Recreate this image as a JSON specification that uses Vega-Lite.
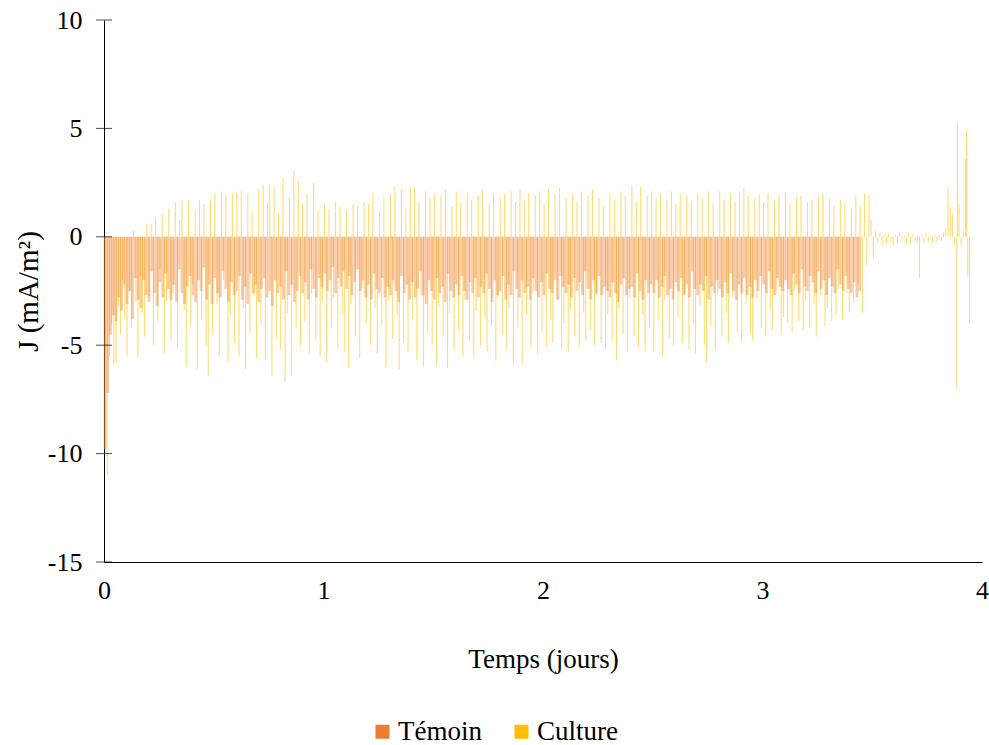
{
"$schema":"https://vega.github.io/schema/vega-lite/v6.json",
"width":878,"height":542,
"autosize":{"type":"none"},
"padding":{"left":104,"top":20,"right":7,"bottom":183},
"background":"white",
"config":{"view":{"stroke":null},"font":"Liberation Serif"},
"datasets":{
"yt":[{"x":0,"j":-15},{"x":0,"j":-10},{"x":0,"j":-5},{"x":0,"j":0},{"x":0,"j":5},{"x":0,"j":10}],
"tem":[
{"x":0.005,"j":-9.8},{"x":0.0175,"j":-7.2},{"x":0.03,"j":-4.5},{"x":0.0425,"j":-3.6},{"x":0.055,"j":-3.9},{"x":0.0675,"j":-2.8},{"x":0.08,"j":-3.4},{"x":0.0925,"j":-2.2},
{"x":0.105,"j":-3.1},{"x":0.1175,"j":-2.5},{"x":0.13,"j":-3.8},{"x":0.1425,"j":-1.9},{"x":0.155,"j":-2.9},{"x":0.1675,"j":-3.3},{"x":0.18,"j":-2},{"x":0.1925,"j":-2.7},
{"x":0.205,"j":-3},{"x":0.2175,"j":-1.6},{"x":0.23,"j":-2.6},{"x":0.2425,"j":-3.2},{"x":0.255,"j":-2.1},{"x":0.2675,"j":-2.8},{"x":0.28,"j":-1.7},{"x":0.2925,"j":-2.4},
{"x":0.305,"j":-2.9},{"x":0.3175,"j":-2.2},{"x":0.33,"j":-3},{"x":0.3425,"j":-1.5},{"x":0.355,"j":-2.6},{"x":0.3675,"j":-3.1},{"x":0.38,"j":-2.3},{"x":0.3925,"j":-1.8},
{"x":0.405,"j":-2.7},{"x":0.4175,"j":-3},{"x":0.43,"j":-2},{"x":0.4425,"j":-2.5},{"x":0.455,"j":-1.4},{"x":0.4675,"j":-2.9},{"x":0.48,"j":-2.2},{"x":0.4925,"j":-3.1},
{"x":0.505,"j":-1.9},{"x":0.5175,"j":-2.6},{"x":0.53,"j":-2.8},{"x":0.5425,"j":-1.6},{"x":0.555,"j":-2.4},{"x":0.5675,"j":-3},{"x":0.58,"j":-2.1},{"x":0.5925,"j":-2.7},
{"x":0.605,"j":-2.5},{"x":0.6175,"j":-1.8},{"x":0.63,"j":-2.9},{"x":0.6425,"j":-2.3},{"x":0.655,"j":-3.1},{"x":0.6675,"j":-1.7},{"x":0.68,"j":-2.6},{"x":0.6925,"j":-2.2},
{"x":0.705,"j":-3},{"x":0.7175,"j":-2.4},{"x":0.73,"j":-1.9},{"x":0.7425,"j":-2.8},{"x":0.755,"j":-2.5},{"x":0.7675,"j":-3.2},{"x":0.78,"j":-2},{"x":0.7925,"j":-2.6},
{"x":0.805,"j":-2.3},{"x":0.8175,"j":-2.9},{"x":0.83,"j":-1.6},{"x":0.8425,"j":-2.7},{"x":0.855,"j":-2.2},{"x":0.8675,"j":-3},{"x":0.88,"j":-2.5},{"x":0.8925,"j":-1.8},
{"x":0.905,"j":-2.6},{"x":0.9175,"j":-2.1},{"x":0.93,"j":-2.9},{"x":0.9425,"j":-1.5},{"x":0.955,"j":-2.4},{"x":0.9675,"j":-2.8},{"x":0.98,"j":-1.9},{"x":0.9925,"j":-2.3},
{"x":1.005,"j":-1.7},{"x":1.0175,"j":-2.5},{"x":1.03,"j":-2},{"x":1.0425,"j":-1.4},{"x":1.055,"j":-2.6},{"x":1.0675,"j":-1.9},{"x":1.08,"j":-2.3},{"x":1.0925,"j":-1.6},
{"x":1.105,"j":-2.4},{"x":1.1175,"j":-1.8},{"x":1.13,"j":-2.7},{"x":1.1425,"j":-2.1},{"x":1.155,"j":-1.5},{"x":1.1675,"j":-2.5},{"x":1.18,"j":-2},{"x":1.1925,"j":-2.8},
{"x":1.205,"j":-2.2},{"x":1.2175,"j":-2.9},{"x":1.23,"j":-1.7},{"x":1.2425,"j":-2.4},{"x":1.255,"j":-2.6},{"x":1.2675,"j":-1.9},{"x":1.28,"j":-2.8},{"x":1.2925,"j":-2.3},
{"x":1.305,"j":-2.7},{"x":1.3175,"j":-2},{"x":1.33,"j":-2.5},{"x":1.3425,"j":-3},{"x":1.355,"j":-1.8},{"x":1.3675,"j":-2.6},{"x":1.38,"j":-2.2},{"x":1.3925,"j":-2.9},
{"x":1.405,"j":-2.1},{"x":1.4175,"j":-2.8},{"x":1.43,"j":-2.4},{"x":1.4425,"j":-1.6},{"x":1.455,"j":-2.7},{"x":1.4675,"j":-3.1},{"x":1.48,"j":-2},{"x":1.4925,"j":-2.5},
{"x":1.505,"j":-2.9},{"x":1.5175,"j":-1.9},{"x":1.53,"j":-2.6},{"x":1.5425,"j":-2.3},{"x":1.555,"j":-3},{"x":1.5675,"j":-1.7},{"x":1.58,"j":-2.5},{"x":1.5925,"j":-2.8},
{"x":1.605,"j":-2.2},{"x":1.6175,"j":-2.7},{"x":1.63,"j":-1.8},{"x":1.6425,"j":-2.5},{"x":1.655,"j":-2.9},{"x":1.6675,"j":-2.1},{"x":1.68,"j":-2.6},{"x":1.6925,"j":-1.9},
{"x":1.705,"j":-2.8},{"x":1.7175,"j":-2.3},{"x":1.73,"j":-2.6},{"x":1.7425,"j":-1.7},{"x":1.755,"j":-2.4},{"x":1.7675,"j":-3},{"x":1.78,"j":-2},{"x":1.7925,"j":-2.7},
{"x":1.805,"j":-2.5},{"x":1.8175,"j":-1.8},{"x":1.83,"j":-2.9},{"x":1.8425,"j":-2.2},{"x":1.855,"j":-2.7},{"x":1.8675,"j":-1.6},{"x":1.88,"j":-2.4},{"x":1.8925,"j":-2.8},
{"x":1.905,"j":-2},{"x":1.9175,"j":-2.6},{"x":1.93,"j":-2.3},{"x":1.9425,"j":-2.9},{"x":1.955,"j":-1.9},{"x":1.9675,"j":-2.5},{"x":1.98,"j":-2.8},{"x":1.9925,"j":-2.1},
{"x":2.005,"j":-2.7},{"x":2.0175,"j":-1.7},{"x":2.03,"j":-2.4},{"x":2.0425,"j":-2.6},{"x":2.055,"j":-2},{"x":2.0675,"j":-2.9},{"x":2.08,"j":-1.8},{"x":2.0925,"j":-2.3},
{"x":2.105,"j":-2.6},{"x":2.1175,"j":-2.2},{"x":2.13,"j":-2.8},{"x":2.1425,"j":-1.9},{"x":2.155,"j":-2.5},{"x":2.1675,"j":-2.1},{"x":2.18,"j":-2.7},{"x":2.1925,"j":-1.6},
{"x":2.205,"j":-2.4},{"x":2.2175,"j":-2.9},{"x":2.23,"j":-2},{"x":2.2425,"j":-2.6},{"x":2.255,"j":-1.8},{"x":2.2675,"j":-2.7},{"x":2.28,"j":-2.3},{"x":2.2925,"j":-2.5},
{"x":2.305,"j":-2.8},{"x":2.3175,"j":-2.1},{"x":2.33,"j":-2.6},{"x":2.3425,"j":-3},{"x":2.355,"j":-2.2},{"x":2.3675,"j":-1.9},{"x":2.38,"j":-2.7},{"x":2.3925,"j":-2.4},
{"x":2.405,"j":-2.3},{"x":2.4175,"j":-2.8},{"x":2.43,"j":-1.7},{"x":2.4425,"j":-2.5},{"x":2.455,"j":-2.9},{"x":2.4675,"j":-2},{"x":2.48,"j":-2.6},{"x":2.4925,"j":-2.2},
{"x":2.505,"j":-2.6},{"x":2.5175,"j":-2},{"x":2.53,"j":-2.8},{"x":2.5425,"j":-2.3},{"x":2.555,"j":-1.8},{"x":2.5675,"j":-2.7},{"x":2.58,"j":-2.4},{"x":2.5925,"j":-2.9},
{"x":2.605,"j":-2.1},{"x":2.6175,"j":-2.5},{"x":2.63,"j":-1.9},{"x":2.6425,"j":-2.7},{"x":2.655,"j":-2.2},{"x":2.6675,"j":-2.8},{"x":2.68,"j":-1.6},{"x":2.6925,"j":-2.4},
{"x":2.705,"j":-2.7},{"x":2.7175,"j":-2.2},{"x":2.73,"j":-2.5},{"x":2.7425,"j":-1.8},{"x":2.755,"j":-2.9},{"x":2.7675,"j":-2.3},{"x":2.78,"j":-2.6},{"x":2.7925,"j":-2},
{"x":2.805,"j":-2.4},{"x":2.8175,"j":-2.8},{"x":2.83,"j":-2.1},{"x":2.8425,"j":-2.6},{"x":2.855,"j":-1.7},{"x":2.8675,"j":-2.5},{"x":2.88,"j":-2.9},{"x":2.8925,"j":-2.2},
{"x":2.905,"j":-2.6},{"x":2.9175,"j":-1.9},{"x":2.93,"j":-2.7},{"x":2.9425,"j":-2.3},{"x":2.955,"j":-2.8},{"x":2.9675,"j":-2},{"x":2.98,"j":-2.5},{"x":2.9925,"j":-1.8},
{"x":3.005,"j":-2.2},{"x":3.0175,"j":-2.6},{"x":3.03,"j":-1.6},{"x":3.0425,"j":-2.4},{"x":3.055,"j":-2.7},{"x":3.0675,"j":-1.9},{"x":3.08,"j":-2.3},{"x":3.0925,"j":-2.5},
{"x":3.105,"j":-2},{"x":3.1175,"j":-2.4},{"x":3.13,"j":-2.7},{"x":3.1425,"j":-1.7},{"x":3.155,"j":-2.2},{"x":3.1675,"j":-2.6},{"x":3.18,"j":-1.5},{"x":3.1925,"j":-2.3},
{"x":3.205,"j":-2.5},{"x":3.2175,"j":-1.8},{"x":3.23,"j":-2.1},{"x":3.2425,"j":-2.6},{"x":3.255,"j":-1.6},{"x":3.2675,"j":-2.4},{"x":3.28,"j":-2},{"x":3.2925,"j":-2.7},
{"x":3.305,"j":-1.9},{"x":3.3175,"j":-2.3},{"x":3.33,"j":-2.6},{"x":3.3425,"j":-1.5},{"x":3.355,"j":-2.2},{"x":3.3675,"j":-2.5},{"x":3.38,"j":-1.8},{"x":3.3925,"j":-2.4},
{"x":3.405,"j":-2.6},{"x":3.4175,"j":-2.1},{"x":3.43,"j":-2.8},{"x":3.4425,"j":-2.5}
],
"cul":[
{"x":0.005,"j":-9.8},{"x":0.015,"j":-11},{"x":0.025,"j":-5.5},{"x":0.035,"j":-4},{"x":0.045,"j":-5.9},{"x":0.055,"j":-5.8},{"x":0.065,"j":-3.2},{"x":0.075,"j":-4.5},{"x":0.085,"j":-2},{"x":0.095,"j":-3.8},
{"x":0.105,"j":-5.5},{"x":0.115,"j":-2.5},{"x":0.125,"j":-4.2},{"x":0.135,"j":0.3},{"x":0.145,"j":-3},{"x":0.155,"j":-5.6},{"x":0.165,"j":-1.8},{"x":0.175,"j":-3.5},{"x":0.185,"j":-4.6},{"x":0.195,"j":0.6},
{"x":0.205,"j":-2.8},{"x":0.215,"j":0.6},{"x":0.225,"j":-5},{"x":0.235,"j":0.9},{"x":0.245,"j":-3.9},{"x":0.255,"j":-1.5},{"x":0.265,"j":1},{"x":0.275,"j":-5.4},{"x":0.285,"j":-3},{"x":0.295,"j":1.3},
{"x":0.305,"j":-4.8},{"x":0.315,"j":-2.6},{"x":0.325,"j":1.6},{"x":0.335,"j":-5.2},{"x":0.345,"j":0.8},{"x":0.355,"j":1.7},{"x":0.365,"j":-3.4},{"x":0.375,"j":-6},{"x":0.385,"j":1.7},{"x":0.395,"j":-4.1},
{"x":0.405,"j":-2.2},{"x":0.415,"j":1.2},{"x":0.425,"j":-6.1},{"x":0.435,"j":1.7},{"x":0.445,"j":-3.8},{"x":0.455,"j":1.5},{"x":0.465,"j":-5},{"x":0.475,"j":-6.4},{"x":0.485,"j":1.7},{"x":0.495,"j":-4.5},
{"x":0.505,"j":2},{"x":0.515,"j":-3.1},{"x":0.525,"j":-5.5},{"x":0.535,"j":2.1},{"x":0.545,"j":-2},{"x":0.555,"j":1.9},{"x":0.565,"j":-5.8},{"x":0.575,"j":-3.6},{"x":0.585,"j":2},{"x":0.595,"j":-4.9},
{"x":0.605,"j":2.1},{"x":0.615,"j":-5.5},{"x":0.625,"j":2.1},{"x":0.635,"j":-3.3},{"x":0.645,"j":-6.1},{"x":0.655,"j":2},{"x":0.665,"j":-4.4},{"x":0.675,"j":1.2},{"x":0.685,"j":-2.7},{"x":0.695,"j":-5.6},
{"x":0.705,"j":2.2},{"x":0.715,"j":-4},{"x":0.725,"j":2.4},{"x":0.735,"j":-5.6},{"x":0.745,"j":1.6},{"x":0.755,"j":2.4},{"x":0.765,"j":-6.4},{"x":0.775,"j":2.3},{"x":0.785,"j":-4.7},{"x":0.795,"j":1.1},
{"x":0.805,"j":-5.2},{"x":0.815,"j":2.65},{"x":0.825,"j":-6.7},{"x":0.835,"j":-3.5},{"x":0.845,"j":1.8},{"x":0.855,"j":-6.4},{"x":0.865,"j":3.05},{"x":0.875,"j":-4.2},{"x":0.885,"j":2.6},{"x":0.895,"j":-5},
{"x":0.905,"j":1.5},{"x":0.915,"j":-3.9},{"x":0.925,"j":2},{"x":0.935,"j":-5.4},{"x":0.945,"j":-2.6},{"x":0.955,"j":2.5},{"x":0.965,"j":-4.8},{"x":0.975,"j":1.2},{"x":0.985,"j":-5.5},{"x":0.995,"j":-3},
{"x":1.005,"j":1.5},{"x":1.015,"j":-5.8},{"x":1.025,"j":1.3},{"x":1.035,"j":-4.2},{"x":1.045,"j":-2.8},{"x":1.055,"j":1.6},{"x":1.065,"j":-5.1},{"x":1.075,"j":1.4},{"x":1.085,"j":-3.6},{"x":1.095,"j":-5.3},
{"x":1.105,"j":1.2},{"x":1.115,"j":-6},{"x":1.125,"j":-3.1},{"x":1.135,"j":1.5},{"x":1.145,"j":-4.6},{"x":1.155,"j":1.4},{"x":1.165,"j":-5.6},{"x":1.175,"j":-2.4},{"x":1.185,"j":1.6},{"x":1.195,"j":-4},
{"x":1.205,"j":1.5},{"x":1.215,"j":-5},{"x":1.225,"j":2},{"x":1.235,"j":-3.3},{"x":1.245,"j":-5.4},{"x":1.255,"j":1.2},{"x":1.265,"j":-4.1},{"x":1.275,"j":1.8},{"x":1.285,"j":-6},{"x":1.295,"j":-2.9},
{"x":1.305,"j":1.9},{"x":1.315,"j":-4.7},{"x":1.325,"j":2.3},{"x":1.335,"j":-3.6},{"x":1.345,"j":-6.1},{"x":1.355,"j":2.2},{"x":1.365,"j":-4.9},{"x":1.375,"j":1.3},{"x":1.385,"j":-5.3},{"x":1.395,"j":2.3},
{"x":1.405,"j":-3.8},{"x":1.415,"j":2.3},{"x":1.425,"j":-5.7},{"x":1.435,"j":1.6},{"x":1.445,"j":-2.7},{"x":1.455,"j":-6},{"x":1.465,"j":2.1},{"x":1.475,"j":-4.4},{"x":1.485,"j":1.8},{"x":1.495,"j":-5},
{"x":1.505,"j":2},{"x":1.515,"j":-5.9},{"x":1.525,"j":-3.2},{"x":1.535,"j":1.9},{"x":1.545,"j":-4.6},{"x":1.555,"j":2.2},{"x":1.565,"j":-6.05},{"x":1.575,"j":-3.5},{"x":1.585,"j":1.4},{"x":1.595,"j":-5.2},
{"x":1.605,"j":2.1},{"x":1.615,"j":-4.3},{"x":1.625,"j":1.6},{"x":1.635,"j":-5.5},{"x":1.645,"j":-2.9},{"x":1.655,"j":2},{"x":1.665,"j":-4.8},{"x":1.675,"j":1.7},{"x":1.685,"j":-5.6},{"x":1.695,"j":-3.4},
{"x":1.705,"j":1.9},{"x":1.715,"j":-5},{"x":1.725,"j":2.2},{"x":1.735,"j":-3.7},{"x":1.745,"j":-5.3},{"x":1.755,"j":1.5},{"x":1.765,"j":-4.1},{"x":1.775,"j":2},{"x":1.785,"j":-5.7},{"x":1.795,"j":-2.8},
{"x":1.805,"j":1.8},{"x":1.815,"j":-4.5},{"x":1.825,"j":2},{"x":1.835,"j":-5.2},{"x":1.845,"j":-3.3},{"x":1.855,"j":2.1},{"x":1.865,"j":-5.9},{"x":1.875,"j":1.6},{"x":1.885,"j":-4.2},{"x":1.895,"j":2.2},
{"x":1.905,"j":-5.9},{"x":1.915,"j":1.7},{"x":1.925,"j":-3.6},{"x":1.935,"j":2},{"x":1.945,"j":-5},{"x":1.955,"j":-2.6},{"x":1.965,"j":1.9},{"x":1.975,"j":-5.4},{"x":1.985,"j":2.1},{"x":1.995,"j":-4.4},
{"x":2.005,"j":1.5},{"x":2.015,"j":-5.1},{"x":2.025,"j":2.2},{"x":2.035,"j":-3.8},{"x":2.045,"j":-4.9},{"x":2.055,"j":2},{"x":2.065,"j":-2.9},{"x":2.075,"j":2.25},{"x":2.085,"j":-5.2},{"x":2.095,"j":-4},
{"x":2.105,"j":1.8},{"x":2.115,"j":-5.3},{"x":2.125,"j":-3.4},{"x":2.135,"j":2},{"x":2.145,"j":-4.6},{"x":2.155,"j":1.6},{"x":2.165,"j":-5.1},{"x":2.175,"j":2.1},{"x":2.185,"j":-3.5},{"x":2.195,"j":-4.8},
{"x":2.205,"j":1.9},{"x":2.215,"j":-4.3},{"x":2.225,"j":2.2},{"x":2.235,"j":-5},{"x":2.245,"j":-2.7},{"x":2.255,"j":1.8},{"x":2.265,"j":-4.9},{"x":2.275,"j":1.4},{"x":2.285,"j":-5.2},{"x":2.295,"j":-3.6},
{"x":2.305,"j":2},{"x":2.315,"j":-4.8},{"x":2.325,"j":1.7},{"x":2.335,"j":-5.7},{"x":2.345,"j":-3.3},{"x":2.355,"j":2.1},{"x":2.365,"j":-4.5},{"x":2.375,"j":1.9},{"x":2.385,"j":-5.3},{"x":2.395,"j":-2.8},
{"x":2.405,"j":2.35},{"x":2.415,"j":-4.6},{"x":2.425,"j":1.6},{"x":2.435,"j":-5.1},{"x":2.445,"j":2.3},{"x":2.455,"j":-3.6},{"x":2.465,"j":-5.3},{"x":2.475,"j":1.9},{"x":2.485,"j":-4.2},{"x":2.495,"j":2.1},
{"x":2.505,"j":-5.3},{"x":2.515,"j":1.8},{"x":2.525,"j":-3.9},{"x":2.535,"j":2},{"x":2.545,"j":-5.5},{"x":2.555,"j":-2.9},{"x":2.565,"j":1.7},{"x":2.575,"j":-4.7},{"x":2.585,"j":2.1},{"x":2.595,"j":-5},
{"x":2.605,"j":1.5},{"x":2.615,"j":-3.7},{"x":2.625,"j":2},{"x":2.635,"j":-4.9},{"x":2.645,"j":-2.6},{"x":2.655,"j":1.9},{"x":2.665,"j":-5.2},{"x":2.675,"j":1.6},{"x":2.685,"j":-4},{"x":2.695,"j":-5.4},
{"x":2.705,"j":2},{"x":2.715,"j":-3.2},{"x":2.725,"j":1.8},{"x":2.735,"j":-5},{"x":2.745,"j":-5.8},{"x":2.755,"j":2.1},{"x":2.765,"j":-4.1},{"x":2.775,"j":1.5},{"x":2.785,"j":-5.2},{"x":2.795,"j":-2.7},
{"x":2.805,"j":2.1},{"x":2.815,"j":-4.6},{"x":2.825,"j":1.7},{"x":2.835,"j":-3.5},{"x":2.845,"j":-4.9},{"x":2.855,"j":2},{"x":2.865,"j":-2.8},{"x":2.875,"j":1.6},{"x":2.885,"j":-4.4},{"x":2.895,"j":2.1},
{"x":2.905,"j":-4.8},{"x":2.915,"j":2.25},{"x":2.925,"j":-3.1},{"x":2.935,"j":1.9},{"x":2.945,"j":-4.5},{"x":2.955,"j":-4.8},{"x":2.965,"j":1.8},{"x":2.975,"j":-2.9},{"x":2.985,"j":2},{"x":2.995,"j":-4.2},
{"x":3.005,"j":1.6},{"x":3.015,"j":-4.6},{"x":3.025,"j":2},{"x":3.035,"j":-3.4},{"x":3.045,"j":-4.3},{"x":3.055,"j":1.7},{"x":3.065,"j":-2.6},{"x":3.075,"j":1.9},{"x":3.085,"j":-4.5},{"x":3.095,"j":-3.7},
{"x":3.105,"j":2},{"x":3.115,"j":-4},{"x":3.125,"j":1.5},{"x":3.135,"j":-4.4},{"x":3.145,"j":-2.5},{"x":3.155,"j":1.8},{"x":3.165,"j":-3.9},{"x":3.175,"j":1.9},{"x":3.185,"j":-4.3},{"x":3.195,"j":-2.9},
{"x":3.205,"j":1.6},{"x":3.215,"j":-4.2},{"x":3.225,"j":1.7},{"x":3.235,"j":-3.1},{"x":3.245,"j":-4.6},{"x":3.255,"j":1.85},{"x":3.265,"j":-2.7},{"x":3.275,"j":2},{"x":3.285,"j":-4.1},{"x":3.295,"j":-3.3},
{"x":3.305,"j":1.8},{"x":3.315,"j":-3.9},{"x":3.325,"j":1.4},{"x":3.335,"j":-3.6},{"x":3.345,"j":-2.4},{"x":3.355,"j":1.7},{"x":3.365,"j":-3.8},{"x":3.375,"j":1.5},{"x":3.385,"j":-2.6},{"x":3.395,"j":-3.5},
{"x":3.405,"j":1.3},{"x":3.415,"j":-3},{"x":3.425,"j":1.9},{"x":3.435,"j":-2.2},{"x":3.445,"j":1.4},{"x":3.455,"j":-3.5},{"x":3.465,"j":2},{"x":3.475,"j":-1.3},{"x":3.485,"j":1.95},{"x":3.495,"j":0.77},
{"x":3.505,"j":-1},{"x":3.515,"j":0.3},{"x":3.525,"j":-0.3},{"x":3.535,"j":0.2},{"x":3.545,"j":-0.4},{"x":3.555,"j":0.1},{"x":3.565,"j":-0.3},{"x":3.575,"j":0.2},{"x":3.585,"j":-0.2},{"x":3.595,"j":-0.4},
{"x":3.605,"j":0.1},{"x":3.615,"j":-0.3},{"x":3.625,"j":0.2},{"x":3.635,"j":-0.2},{"x":3.645,"j":0.1},{"x":3.655,"j":-0.4},{"x":3.665,"j":0.15},{"x":3.675,"j":-0.3},{"x":3.685,"j":0.1},{"x":3.695,"j":-0.2},
{"x":3.705,"j":-0.3},{"x":3.715,"j":-1.9},{"x":3.725,"j":0.1},{"x":3.735,"j":-0.3},{"x":3.745,"j":0.2},{"x":3.755,"j":-0.2},{"x":3.765,"j":0.1},{"x":3.775,"j":-0.3},{"x":3.785,"j":0.1},{"x":3.795,"j":-0.2},
{"x":3.805,"j":0.1},{"x":3.815,"j":-0.2},{"x":3.825,"j":0.2},{"x":3.835,"j":0.4},{"x":3.845,"j":2.3},{"x":3.855,"j":1.4},{"x":3.865,"j":1.05},{"x":3.875,"j":-0.35},{"x":3.885,"j":-7},{"x":3.888,"j":5.2},{"x":3.895,"j":1.5},
{"x":3.905,"j":-0.4},{"x":3.915,"j":0.3},{"x":3.925,"j":3.6},{"x":3.93,"j":4.9},{"x":3.935,"j":-1.8},{"x":3.943,"j":-4}
]
},
"encoding":{
"x":{"field":"x","type":"quantitative","scale":{"domain":[0,4],"nice":false,"zero":false,"padding":0},
"axis":{"title":"Temps (jours)","values":[0,1,2,3,4],"grid":false,"ticks":false,"tickSize":0,"domainColor":"black","domainWidth":1,"labelFont":"Liberation Serif","labelFontSize":26,"labelColor":"black","labelPadding":15,"labelFlush":false,"titleFont":"Liberation Serif","titleFontSize":27,"titleFontWeight":"normal","titleColor":"black","titlePadding":43}},
"y":{"field":"j","type":"quantitative","scale":{"domain":[-15,10],"nice":false,"padding":0},
"axis":{"title":"J (mA/m²)","values":[-15,-10,-5,0,5,10],"grid":false,"ticks":false,"tickSize":0,"domainColor":"black","domainWidth":1,"labelFont":"Liberation Serif","labelFontSize":26,"labelColor":"black","labelPadding":22,"labelExpr":"datum.value","titleFont":"Liberation Serif","titleFontSize":29,"titleFontWeight":"normal","titleColor":"black","titlePadding":4}}
},
"layer":[
{"data":{"name":"cul"},"mark":{"type":"bar","orient":"vertical","size":1.1,"opacity":0.55},
 "encoding":{"y2":{"datum":0},"color":{"datum":"Culture","type":"nominal","scale":{"domain":["Témoin","Culture"],"range":["#ED7D31","#FFC000"]},
 "legend":{"orient":"none","legendX":265,"legendY":698,"direction":"horizontal","title":null,"symbolType":"square","symbolSize":196,"symbolOpacity":1,"symbolStrokeWidth":0,"labelFont":"Liberation Serif","labelFontSize":27,"labelColor":"black","labelOffset":2,"columnPadding":26,"padding":0,
 "encode":{"symbols":{"update":{"opacity":{"value":1},"fillOpacity":{"value":1}}}}}}}},
{"data":{"name":"tem"},"mark":{"type":"bar","orient":"vertical","size":2.75,"opacity":0.4},
 "encoding":{"y2":{"datum":0},"color":{"datum":"Témoin","type":"nominal"}}},
{"data":{"name":"yt"},"mark":{"type":"tick","orient":"horizontal","size":16,"thickness":1,"color":"black"},"encoding":{}}
]
}
